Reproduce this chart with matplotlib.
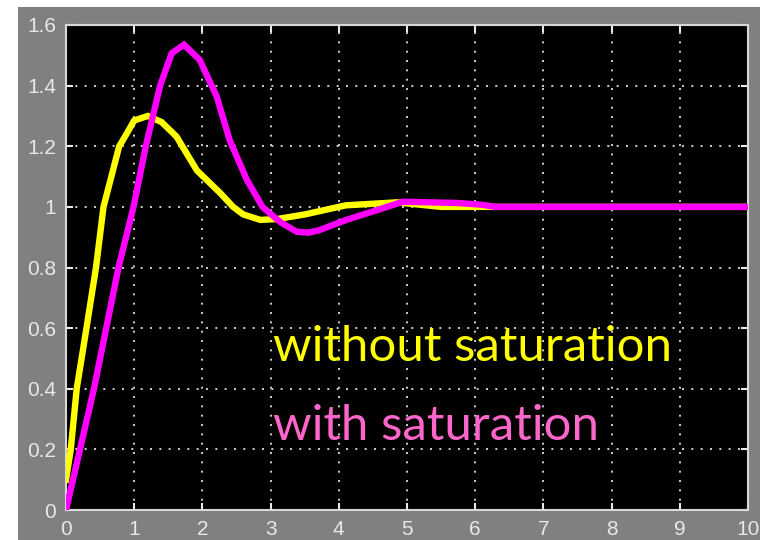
import matplotlib.pyplot as plt
from matplotlib.patches import Rectangle

# step responses
t_nosat = [0, 0.07, 0.157, 0.30, 0.44, 0.55, 0.78, 0.86, 1.0, 1.2, 1.4, 1.62, 1.92,
           2.26, 2.45, 2.6, 2.85, 3.1, 3.5, 4.1, 4.85, 5.5, 6.2, 10]
y_nosat = [0.1, 0.2, 0.4, 0.6, 0.8, 1.0, 1.2, 1.23, 1.285, 1.30, 1.28, 1.232, 1.12,
           1.046, 1.0, 0.975, 0.957, 0.96, 0.975, 1.005, 1.015, 1.0, 1.0, 1.0]

t_sat = [0, 0.205, 0.41, 0.59, 0.77, 0.99, 1.17, 1.38, 1.55, 1.73, 1.96, 2.21, 2.4,
         2.65, 2.88, 3.14, 3.38, 3.55, 3.7, 4.11, 4.5, 4.94, 5.73, 6.1, 6.3, 10]
y_sat = [0, 0.2, 0.4, 0.6, 0.8, 1.0, 1.2, 1.4, 1.507, 1.535, 1.485, 1.364, 1.22,
         1.09, 1.0, 0.95, 0.918, 0.915, 0.922, 0.957, 0.985, 1.017, 1.013, 1.007, 1.0, 1.0]

x_ticks = list(range(0, 11))
y_ticks = [0, 0.2, 0.4, 0.6, 0.8, 1, 1.2, 1.4, 1.6]
y_ticklabels = ["0", "0.2", "0.4", "0.6", "0.8", "1", "1.2", "1.4", "1.6"]

fig = plt.figure(figsize=(7.6, 5.4), dpi=100)
fig.patch.set_facecolor("white")
# grey scope window behind the axes
fig.patches.append(Rectangle((18 / 760, 0), 1 - 18 / 760, 1 - 7 / 540,
                             transform=fig.transFigure, facecolor="#808080",
                             edgecolor="none", zorder=-10))

ax = fig.add_axes([66 / 760, 30 / 540, 682 / 760, 485 / 540])
ax.set_facecolor("black")

ax.plot(t_nosat, y_nosat, color="#ffff00", lw=4.6, solid_joinstyle="miter", zorder=3)
ax.plot(t_sat, y_sat, color="#ff00ff", lw=4.6, solid_joinstyle="miter", zorder=4)

ax.set_xlim(0, 10)
ax.set_ylim(0, 1.6)
ax.set_xticks(x_ticks)
ax.set_yticks(y_ticks)
ax.set_yticklabels(y_ticklabels)

ax.grid(True, color="#d0d0d0", linestyle=(0, (1, 3.8)), linewidth=1.4)
ax.tick_params(direction="in", length=5, width=1.5, colors="#e8e8e8",
               top=True, right=True, labelsize=15, pad=7)
for lab in ax.get_xticklabels() + ax.get_yticklabels():
    lab.set_family("Liberation Sans")
for sp in ax.spines.values():
    sp.set_color("#d8d8d8")
    sp.set_linewidth(1.5)

ax.text(3.03, 0.49, "without saturation", color="#ffff00", fontsize=35.5,
        family="Lato", va="baseline", ha="left", zorder=5)
ax.text(3.03, 0.23, "with saturation", color="#ff66cc", fontsize=35.5,
        family="Lato", va="baseline", ha="left", zorder=5)

fig.savefig("out.png", dpi=100)
